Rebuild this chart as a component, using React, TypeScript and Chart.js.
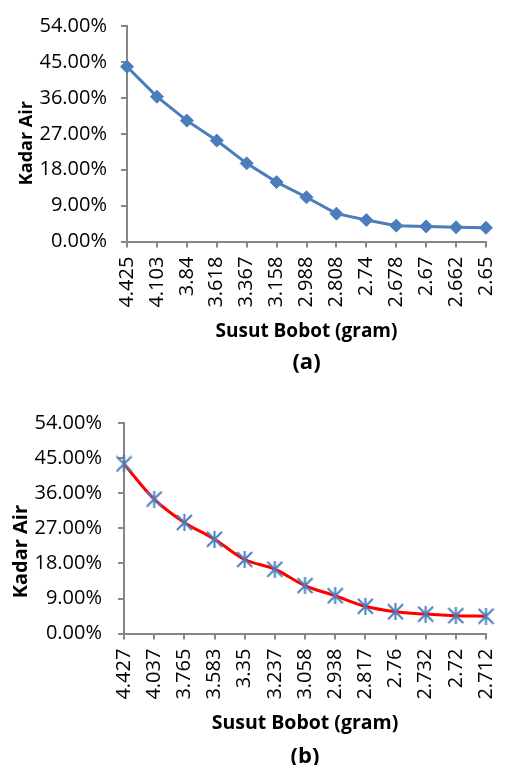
import React, { useEffect, useRef } from 'react';
import { Chart, registerables } from 'chart.js';

Chart.register(...registerables);

// ---- data ----
const categoriesA = ['4.425', '4.103', '3.84', '3.618', '3.367', '3.158', '2.988', '2.808', '2.74', '2.678', '2.67', '2.662', '2.65'];
const kadarAirA = [43.8, 36.3, 30.3, 25.3, 19.6, 14.9, 11.1, 7.0, 5.4, 4.0, 3.8, 3.6, 3.45];

const categoriesB = ['4.427', '4.037', '3.765', '3.583', '3.35', '3.237', '3.058', '2.938', '2.817', '2.76', '2.732', '2.72', '2.712'];
const kadarAirB = [43.5, 34.5, 28.5, 24.2, 19.0, 16.5, 12.3, 9.7, 7.0, 5.6, 5.0, 4.6, 4.45];

const yTicks = [0, 9, 18, 27, 36, 45, 54];

const xTitle = 'Susut Bobot (gram)';
const yTitle = 'Kadar Air';
const panelA = '(a)';
const panelB = '(b)';

const BLUE = '#4A7EBB';
const RED = '#FF0000';
const AXIS = '#868686';
const FONT = 'Open Sans';

function makeAsterisk(size: number, color: string, lw: number): HTMLCanvasElement {
  const c = document.createElement('canvas');
  c.width = size;
  c.height = size;
  const ctx = c.getContext('2d')!;
  ctx.strokeStyle = color;
  ctx.lineWidth = lw;
  ctx.lineCap = 'butt';
  const m = size / 2;
  const r = size / 2 - 1;
  ctx.beginPath();
  ctx.moveTo(m - r, m - r);
  ctx.lineTo(m + r, m + r);
  ctx.moveTo(m + r, m - r);
  ctx.lineTo(m - r, m + r);
  ctx.moveTo(m, m - r - 1);
  ctx.lineTo(m, m + r + 1);
  ctx.stroke();
  return c;
}

interface Geo {
  padTop: number;
  padLeft: number;
  padRight: number;
  padBottom: number;
  yWidth: number;
  xHeight: number;
  yTickPad: number;
  xTickPad: number;
  titlePadTop: number;
  yTitlePad: number;
  yTitleSize: number;
  yTitleShift: number; // trailing spaces to move the rotated title downwards
  xTitleSize: number;
}

function makeConfig(labels: string[], values: number[], panel: string, smooth: boolean, geo: Geo): any {
  const dataset: any = smooth
    ? {
        data: values,
        borderColor: RED,
        borderWidth: 3,
        tension: 0.35,
        pointStyle: makeAsterisk(17, BLUE, 2),
        pointRadius: 8,
        pointBackgroundColor: BLUE,
        pointBorderColor: BLUE,
        fill: false,
      }
    : {
        data: values,
        borderColor: BLUE,
        borderWidth: 3,
        tension: 0,
        pointStyle: 'rectRot',
        pointRadius: 6.5,
        pointBackgroundColor: BLUE,
        pointBorderColor: BLUE,
        pointBorderWidth: 1,
        fill: false,
      };
  return {
    type: 'line',
    data: { labels, datasets: [dataset] },
    options: {
      responsive: false,
      animation: false,
      layout: {
        padding: { top: geo.padTop, left: geo.padLeft, right: geo.padRight, bottom: geo.padBottom },
      },
      plugins: {
        legend: { display: false },
        tooltip: { enabled: false },
        title: {
          display: true,
          fullSize: false,
          position: 'bottom',
          text: panel,
          color: '#000',
          font: { family: FONT, size: 22, weight: 'bold', lineHeight: 1.2 },
          padding: { top: geo.titlePadTop, bottom: 4 },
        },
      },
      scales: {
        x: {
          type: 'category',
          offset: false,
          grid: { drawOnChartArea: false, drawTicks: true, tickLength: 6, color: AXIS, lineWidth: 2 },
          border: { display: true, color: AXIS, width: 2 },
          ticks: {
            autoSkip: false,
            maxRotation: 90,
            minRotation: 90,
            padding: geo.xTickPad,
            color: '#000',
            font: { family: FONT, size: 20 },
          },
          title: {
            display: true,
            text: xTitle,
            color: '#000',
            font: { family: FONT, size: geo.xTitleSize, weight: 'bold', lineHeight: 1.2 },
            padding: { top: 0, bottom: 2 },
          },
          afterFit: (scale: any) => {
            scale.height = geo.xHeight;
          },
        },
        y: {
          type: 'linear',
          min: 0,
          max: 54,
          grid: { drawOnChartArea: false, drawTicks: true, tickLength: 6, color: AXIS, lineWidth: 2 },
          border: { display: true, color: AXIS, width: 2 },
          afterBuildTicks: (scale: any) => {
            scale.ticks = yTicks.map((v) => ({ value: v }));
          },
          ticks: {
            padding: geo.yTickPad,
            color: '#000',
            font: { family: FONT, size: 20 },
            callback: (v: any) => Number(v).toFixed(2) + '%',
          },
          title: {
            display: true,
            text: yTitle + ' '.repeat(geo.yTitleShift),
            color: '#000',
            font: { family: FONT, size: geo.yTitleSize, weight: 'bold', lineHeight: 1.2 },
            padding: { top: geo.yTitlePad, bottom: 0 },
          },
          afterFit: (scale: any) => {
            scale.width = geo.yWidth;
          },
        },
      },
    },
  };
}

const geoA: Geo = {
  padTop: 22,
  padLeft: 8,
  padRight: 27,
  padBottom: 5,
  yWidth: 119,
  xHeight: 103,
  yTickPad: 14,
  xTickPad: 9,
  titlePadTop: 5,
  yTitlePad: 8,
  yTitleSize: 18,
  yTitleShift: 4,
  xTitleSize: 19,
};

const geoB: Geo = {
  padTop: 38,
  padLeft: 3,
  padRight: 12,
  padBottom: 6,
  yWidth: 121,
  xHeight: 104,
  yTickPad: 16,
  xTickPad: 9,
  titlePadTop: 6,
  yTitlePad: 6,
  yTitleSize: 20,
  yTitleShift: 9,
  xTitleSize: 19.5,
};

function ChartCanvas(props: { labels: string[]; values: number[]; panel: string; smooth: boolean; geo: Geo; top: number; height: number }) {
  const ref = useRef<HTMLCanvasElement | null>(null);
  useEffect(() => {
    if (!ref.current) return;
    const chart = new Chart(ref.current, makeConfig(props.labels, props.values, props.panel, props.smooth, props.geo));
    return () => chart.destroy();
  }, []);
  return (
    <canvas
      ref={ref}
      width={519}
      height={props.height}
      style={{ position: 'absolute', left: 0, top: props.top, width: 519, height: props.height, display: 'block' }}
    />
  );
}

export default function App() {
  return (
    <div style={{ position: 'absolute', left: 0, top: 0, width: 519, height: 765, overflow: 'hidden', background: '#fff' }}>
      <ChartCanvas labels={categoriesA} values={kadarAirA} panel={panelA} smooth={false} geo={geoA} top={0} height={385} />
      <ChartCanvas labels={categoriesB} values={kadarAirB} panel={panelB} smooth={true} geo={geoB} top={385} height={395} />
    </div>
  );
}
